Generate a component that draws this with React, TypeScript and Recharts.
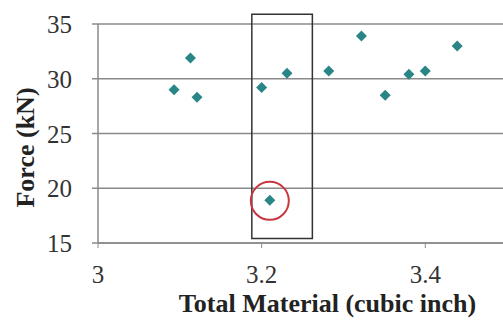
import {
  ScatterChart,
  Scatter,
  XAxis,
  YAxis,
  CartesianGrid,
  ReferenceArea,
  ReferenceDot,
  Label,
} from 'recharts'

// total material (cubic inch) vs. force (kN)
const materialX = [3.093, 3.113, 3.121, 3.2, 3.21, 3.231, 3.282, 3.322, 3.351, 3.38, 3.4, 3.439]
const forceY = [29.0, 31.9, 28.3, 29.2, 18.9, 30.5, 30.7, 33.9, 28.5, 30.4, 30.7, 33.0]

const xTicks = [3, 3.2, 3.4]
const yTicks = [15, 20, 25, 30, 35]

// highlighted band and outlier
const bandX = [3.188, 3.262]
const bandY = [15.4, 35.9]
const outlier = { x: 3.21, y: 18.85 }

const points = materialX.map((x, i) => ({ x, y: forceY[i] }))

const FONT = 'Liberation Serif'
const GRID = '#8a8a8a'

function Diamond(props: any) {
  const { cx, cy } = props
  const r = 5.5
  return (
    <path
      d={`M${cx},${cy - r}L${cx + r},${cy}L${cx},${cy + r}L${cx - r},${cy}Z`}
      fill="#2a8587"
    />
  )
}

function XTick(props: any) {
  const { x, y, payload } = props
  return (
    <text x={x} y={y + 35} textAnchor="middle" fontFamily={FONT} fontSize={25} fill="#333">
      {payload.value}
    </text>
  )
}

function YTick(props: any) {
  const { x, y, payload } = props
  return (
    <text x={x} y={y + 9} textAnchor="end" fontFamily={FONT} fontSize={25} fill="#333">
      {payload.value}
    </text>
  )
}

function YTitle({ viewBox }: any) {
  const cx = viewBox.x + 25
  const cy = viewBox.y + viewBox.height / 2 + 14
  return (
    <text
      x={cx}
      y={cy}
      transform={`rotate(-90 ${cx} ${cy})`}
      textAnchor="middle"
      dominantBaseline="central"
      fontFamily={FONT}
      fontWeight="bold"
      fontSize={26}
      fill="#222"
    >
      Force (kN)
    </text>
  )
}

function XTitle({ viewBox }: any) {
  const cx = viewBox.x + viewBox.width / 2 + 27
  const cy = viewBox.y + 60
  return (
    <text
      x={cx}
      y={cy}
      textAnchor="middle"
      dominantBaseline="central"
      fontFamily={FONT}
      fontWeight="bold"
      fontSize={26}
      fill="#222"
    >
      Total Material (cubic inch)
    </text>
  )
}

export default function App() {
  return (
    <div style={{ position: 'absolute', left: 0, top: 0, background: '#fff' }}>
      <ScatterChart width={503} height={323} margin={{ top: 24, right: 0, bottom: 0, left: 0 }}>
        <CartesianGrid vertical={false} stroke={GRID} strokeWidth={1.5} />
        <XAxis
          type="number"
          dataKey="x"
          domain={[3, 3.495]}
          ticks={xTicks}
          allowDataOverflow
          height={80}
          tickSize={5}
          tickMargin={0}
          axisLine={{ stroke: GRID, strokeWidth: 1.5 }}
          tickLine={{ stroke: GRID }}
          tick={<XTick />}
        >
          <Label content={XTitle} />
        </XAxis>
        <YAxis
          type="number"
          dataKey="y"
          domain={[15, 35]}
          ticks={yTicks}
          allowDataOverflow
          width={98}
          tickSize={6}
          tickMargin={20}
          axisLine={{ stroke: GRID, strokeWidth: 1.5 }}
          tickLine={{ stroke: GRID, strokeWidth: 1.5 }}
          tick={<YTick />}
        >
          <Label content={YTitle} />
        </YAxis>
        <ReferenceArea
          x1={bandX[0]}
          x2={bandX[1]}
          y1={bandY[0]}
          y2={bandY[1]}
          ifOverflow="visible"
          fill="none"
          fillOpacity={0}
          stroke="#333"
          strokeWidth={1.5}
        />
        <Scatter data={points} shape={Diamond} isAnimationActive={false} />
        <ReferenceDot
          x={outlier.x}
          y={outlier.y}
          r={19}
          ifOverflow="visible"
          fill="none"
          stroke="#c8373f"
          strokeWidth={2}
        />
      </ScatterChart>
    </div>
  )
}
